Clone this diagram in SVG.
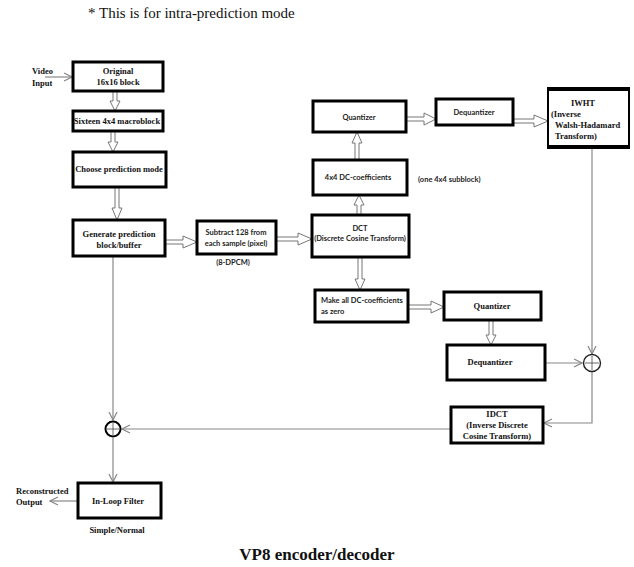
<svg xmlns="http://www.w3.org/2000/svg" width="634" height="567" viewBox="0 0 634 567">
<style>
.box{fill:#fff;stroke:#000;stroke-width:3}
.s{font-family:"Liberation Serif",serif;font-weight:bold;font-size:8.5px;fill:#111}
.n{font-family:Lato,"Liberation Sans",sans-serif;font-weight:bold;font-size:7.5px;fill:#222}
.m{text-anchor:middle}
.ha{fill:#fff;stroke:#777;stroke-width:1}
.ln{fill:none;stroke:#888;stroke-width:1.2}
.sum{fill:#fff;stroke:#222;stroke-width:1.4}
</style>
<defs>
<marker id="v" markerWidth="10" markerHeight="10" refX="9" refY="5" orient="auto" markerUnits="userSpaceOnUse">
<path d="M1,1 L9,5 L1,9" fill="none" stroke="#888" stroke-width="1.2"/>
</marker>
</defs>
<text x="88" y="18" style="font-family:'Liberation Serif',serif;font-size:15px;fill:#111">* This is for intra-prediction mode</text>

<g id="connectors">
<!-- hollow arrows -->
<polygon class="ha" points="113,91 117,91 117,101 120,101 115,111 110,101 113,101"/>
<polygon class="ha" points="111,131 115,131 115,142 118,142 113,152 108,142 111,142"/>
<polygon class="ha" points="115,187 119,187 119,208 122,208 117,220 112,208 115,208"/>
<polygon class="ha" points="165,240 183,240 183,236 197,242 183,248 183,244 165,244"/>
<polygon class="ha" points="276,237 298,237 298,233 312,239 298,245 298,241 276,241"/>
<polygon class="ha" points="357,215 357,205 354,205 359,195 364,205 361,205 361,215"/>
<polygon class="ha" points="355,160 355,143 352,143 357,132 362,143 359,143 359,160"/>
<polygon class="ha" points="406,117 424,117 424,113 436,119 424,125 424,121 406,121"/>
<polygon class="ha" points="513,119 534,119 534,115 548,121 534,127 534,123 513,123"/>
<polygon class="ha" points="358,257 358,279 355,279 360,290 365,279 362,279 362,257"/>
<polygon class="ha" points="408,305 431,305 431,301 444,307 431,313 431,309 408,309"/>
<polygon class="ha" points="489,320 489,335 486,335 491,345 496,335 493,335 493,320"/>
<!-- thin arrows -->
<line class="ln" x1="45" y1="77" x2="72" y2="77" marker-end="url(#v)"/>
<line class="ln" x1="592" y1="148" x2="592" y2="354" marker-end="url(#v)"/>
<line class="ln" x1="545" y1="363" x2="582" y2="363" marker-end="url(#v)"/>
<polyline class="ln" points="592,371 592,423 544,423" marker-end="url(#v)"/>
<line class="ln" x1="451" y1="429" x2="122" y2="429" marker-end="url(#v)"/>
<line class="ln" x1="113" y1="256" x2="113" y2="420" marker-end="url(#v)"/>
<line class="ln" x1="113" y1="438" x2="113" y2="482" marker-end="url(#v)"/>
<line class="ln" x1="78" y1="501" x2="50" y2="501" marker-end="url(#v)"/>
</g>

<text class="s" x="32" y="74">Video</text>
<text class="s" x="32" y="86">Input</text>

<g id="original">
<rect class="box" x="73" y="62" width="90" height="29"/>
<text class="s m" x="118" y="74">Original</text>
<text class="s m" x="118" y="85">16x16 block</text>
</g>
<g id="sixteen">
<rect class="box" x="73" y="111" width="90" height="20"/>
<text class="s m" x="117" y="124">Sixteen 4x4 macroblock</text>
</g>
<g id="choose">
<rect class="box" x="73" y="152" width="93" height="35"/>
<text class="s m" x="119" y="172">Choose prediction mode</text>
</g>
<g id="generate">
<rect class="box" x="73" y="220" width="92" height="36"/>
<text class="s m" x="119" y="237">Generate prediction</text>
<text class="s m" x="119" y="248">block/buffer</text>
</g>
<g id="subtract">
<rect class="box" x="197" y="221" width="79" height="33"/>
<text class="n m" x="236" y="235">Subtract 128 from</text>
<text class="n m" x="236" y="246">each sample (pixel)</text>
<text class="n m" x="233" y="265">(8-DPCM)</text>
</g>
<g id="quantizer1">
<rect class="box" x="313" y="101" width="93" height="31"/>
<text class="n m" x="359" y="120">Quantizer</text>
</g>
<g id="dequantizer1">
<rect class="box" x="436" y="99" width="77" height="26"/>
<text class="n m" x="474" y="115">Dequantizer</text>
</g>
<g id="iwht">
<rect x="548" y="88" width="81" height="60" fill="#fff" stroke="#000" stroke-width="2"/>
<rect x="548" y="87" width="81" height="4" fill="#000"/>
<rect x="548" y="145" width="81" height="4" fill="#000"/>
<text class="s m" x="583" y="106">IWHT</text>
<text class="s" x="551" y="117">(Inverse</text>
<text class="s" x="555" y="128">Walsh-Hadamard</text>
<text class="s" x="555" y="139">Transform)</text>
</g>
<g id="dc4x4">
<rect class="box" x="313" y="160" width="94" height="35"/>
<text class="n m" x="358" y="180">4x4 DC-coefficients</text>
<text class="n" x="418" y="182">(one 4x4 subblock)</text>
</g>
<g id="dct">
<rect class="box" x="312" y="215" width="97" height="42"/>
<text class="n m" x="360" y="231">DCT</text>
<text class="n m" x="360" y="241">(Discrete Cosine Transform)</text>
</g>
<g id="makezero">
<rect class="box" x="315" y="290" width="93" height="32"/>
<text class="n" x="321" y="303">Make all DC-coefficients</text>
<text class="n" x="321" y="314">as zero</text>
</g>
<g id="quantizer2">
<rect class="box" x="444" y="292" width="97" height="28"/>
<text class="s m" x="492" y="309">Quantizer</text>
</g>
<g id="dequantizer2">
<rect class="box" x="447" y="345" width="98" height="35"/>
<text class="s m" x="490" y="365">Dequantizer</text>
</g>
<g id="sum1">
<circle class="sum" cx="592" cy="363" r="8.5"/>
<path d="M592,356 V370 M585,363 H599" stroke="#444" stroke-width="0.8"/>
</g>
<g id="idct">
<rect class="box" x="451" y="407" width="92" height="36"/>
<text class="s m" x="497" y="417">IDCT</text>
<text class="s m" x="497" y="428">(Inverse Discrete</text>
<text class="s m" x="497" y="439">Cosine Transform)</text>
</g>
<g id="sum2">
<circle cx="113" cy="429" r="7.5" fill="#fff" stroke="#000" stroke-width="2"/>
<path d="M113,423 V435 M107,429 H119" stroke="#444" stroke-width="0.8"/>
</g>
<g id="inloop">
<rect class="box" x="78" y="483" width="83" height="35"/>
<text class="s m" x="118" y="504">In-Loop Filter</text>
<text class="s m" x="117" y="533">Simple/Normal</text>
</g>
<text class="s" x="16" y="494">Reconstructed</text>
<text class="s" x="16" y="505">Output</text>

<text x="317" y="560" text-anchor="middle" style="font-family:'Liberation Serif',serif;font-weight:bold;font-size:17px;fill:#111">VP8 encoder/decoder</text>
</svg>
